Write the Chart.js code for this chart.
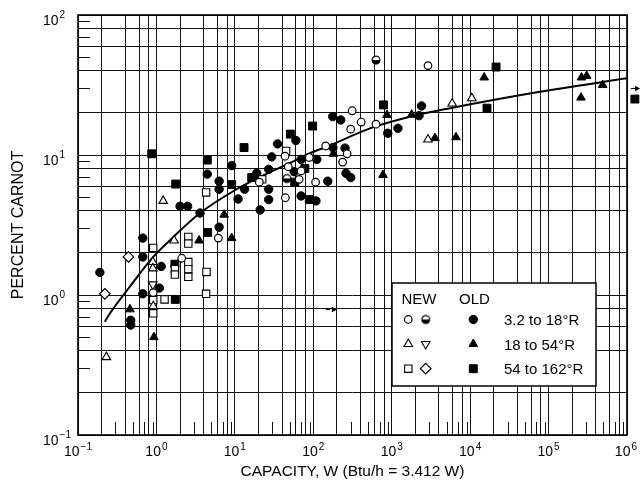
<!DOCTYPE html>
<html>
<head>
<meta charset="utf-8">
<script src="https://cdn.jsdelivr.net/npm/chart.js@4.4.1/dist/chart.umd.min.js"></script>
<style>
  html, body { margin: 0; padding: 0; background: #fff; }
  canvas { display: block; }
</style>
</head>
<body>
<canvas id="chart" width="640" height="482"></canvas>
<script>
// ---------- DATA ----------
const xTickExps = [-1, 0, 1, 2, 3, 4, 5, 6];
const yTickExps = [-1, 0, 1, 2];
const gridSteps = [1, 2, 4, 6, 8];
const minorSteps = [3, 5, 7, 9];

// OLD, filled symbols
const oldCircles = [
  [0.19, 1.45], [0.47, 0.66], [0.47, 0.61], [0.67, 2.55], [0.67, 1.87], [0.67, 1.02],
  [1.15, 1.6], [1.09, 1.12], [2.0, 4.3], [2.5, 4.3], [3.6, 3.85], [4.45, 7.3],
  [6.3, 6.5], [6.3, 5.7], [6.3, 3.05], [9.1, 8.4], [11, 4.85], [13.3, 5.7],
  [19, 7.4], [21, 4.05], [27, 7.9], [27, 5.7], [27, 4.8], [29.5, 9.7], [35, 12],
  [60, 12.7], [70, 9.3], [57, 7.6], [70, 5.1], [108, 4.7], [111, 9.3], [153, 6.5],
  [177, 18.8], [224, 17.8], [178, 11.3], [254, 11.2], [261, 7.4], [300, 6.9],
  [890, 14.3], [1200, 15.5], [2230, 19.1], [2400, 22.4]
];
const oldTriangles = [
  [0.46, 0.79], [0.93, 0.5], [3.5, 2.45], [7.3, 3.75], [9.1, 2.55], [180, 10.2],
  [775, 7.2], [870, 19.3], [1800, 19.4], [3560, 13.2], [6600, 13.4], [15100, 35.8],
  [263000, 35.8], [306000, 36.7], [490000, 31.6], [259000, 25.7]
];
const oldSquares = [
  [0.87, 10.2], [1.76, 6.2], [1.74, 0.93], [1.72, 1.66], [4.45, 9.2], [4.5, 2.8],
  [9.1, 6.15], [13.1, 11.3], [16.4, 6.9], [51, 14.1], [78, 8.0], [58, 6.4],
  [89, 4.8], [98, 16.1], [785, 22.8], [21400, 42.5], [16400, 21.6], [1.26e6, 25.1]
];

// NEW, open symbols
const newCircles = [
  [0.91, 1.04], [2.1, 1.83], [6.15, 2.55], [20.5, 6.4], [44, 4.95], [43.6, 9.8],
  [48, 8.25], [66, 6.7], [70, 7.7], [89, 9.6], [107, 6.4], [144, 11.6], [270, 10.2],
  [237, 8.9], [313, 20.7], [300, 15.3], [408, 17.2], [630, 16.6], [2900, 43.5]
];
const newHalfCircles = [[630, 47.7], [46, 6.8]];
const newTrianglesUp = [
  [0.23, 0.36], [0.9, 1.72], [0.9, 1.55], [0.91, 0.83], [1.22, 4.7], [1.68, 2.45],
  [2900, 12.9], [5900, 23.3], [10500, 25.4]
];
const newTrianglesDown = [[0.9, 1.19]];
const newSquares = [
  [0.91, 2.17], [0.91, 0.92], [0.91, 0.74], [1.27, 0.93], [1.72, 1.53], [1.72, 1.4],
  [2.55, 2.6], [2.55, 2.33], [2.55, 1.72], [2.55, 1.53], [2.55, 1.35], [4.35, 1.46],
  [4.3, 1.02], [4.3, 5.4], [22.3, 6.7], [45, 10.7]
];
const newDiamonds = [[0.44, 1.87], [0.22, 1.02]];

// fitted curve
const fitCurve = [
  [0.22, 0.645], [0.256, 0.74], [0.46, 1.15], [0.91, 1.87], [1.72, 2.66], [3.6, 3.85],
  [10, 5.6], [20.9, 6.96], [50.5, 8.77], [90.8, 10.3], [163, 11.7], [528, 15.5],
  [2100, 19.3], [5530, 21.6], [77600, 28.3], [1e6, 35.3]
];

// small arrows marking off-scale points
const arrowFromX = [145, 1.12e6];
const arrowToX = [200, 1.47e6];
const arrowY = [0.79, 30.1];
const arrowDashed = [true, false];

const legendHead = ["NEW", "OLD"];
const legendRows = ["3.2 to 18°R", "18 to 54°R", "54 to 162°R"];

// ---------- STYLE ----------
const FONT = '"Liberation Sans", Arial, Helvetica, sans-serif';
const GRID = "#111";

function halfCircle(r) {
  const c = document.createElement("canvas");
  c.width = 12; c.height = 12;
  const g = c.getContext("2d");
  g.beginPath(); g.arc(6, 6, r, 0, Math.PI * 2); g.fillStyle = "#fff"; g.fill();
  g.beginPath(); g.arc(6, 6, r, 0, Math.PI); g.closePath(); g.fillStyle = "#000"; g.fill();
  g.beginPath(); g.arc(6, 6, r, 0, Math.PI * 2); g.lineWidth = 1.2; g.strokeStyle = "#000"; g.stroke();
  return c;
}

const MK = {
  newCircle: { pointStyle: "circle", radius: 3.8, rotation: 0, fill: "#fff", bw: 1.2 },
  newHalf:   { pointStyle: halfCircle(3.9), radius: 4, rotation: 0, fill: "#fff", bw: 1.2 },
  newTriUp:  { pointStyle: "triangle", radius: 5, rotation: 0, fill: "#fff", bw: 1.1 },
  newTriDn:  { pointStyle: "triangle", radius: 5, rotation: 180, fill: "#fff", bw: 1.1 },
  newSquare: { pointStyle: "rect", radius: 5.2, rotation: 0, fill: "#fff", bw: 1.1 },
  newDiam:   { pointStyle: "rectRot", radius: 5.3, rotation: 0, fill: "#fff", bw: 1.2 },
  oldCircle: { pointStyle: "circle", radius: 4.2, rotation: 0, fill: "#000", bw: 1 },
  oldTri:    { pointStyle: "triangle", radius: 5, rotation: 0, fill: "#000", bw: 1 },
  oldSquare: { pointStyle: "rect", radius: 5.6, rotation: 0, fill: "#000", bw: 1 }
};

function pts(arr) {
  return arr.map(p => ({ x: p[0], y: p[1] }));
}

function markerSet(label, arr, mk) {
  return {
    label,
    data: pts(arr),
    pointStyle: mk.pointStyle,
    pointRadius: mk.radius,
    pointRotation: mk.rotation,
    pointBackgroundColor: mk.fill,
    pointBorderColor: "#000",
    pointBorderWidth: mk.bw,
    showLine: false,
    clip: false
  };
}

function logTicks(lo, hi) {
  const out = [];
  for (let e = lo; e < hi; e++) {
    for (let m = 1; m <= 9; m++) {
      out.push({ value: Number((m * Math.pow(10, e)).toPrecision(6)), isGrid: gridSteps.includes(m) });
    }
  }
  out.push({ value: Math.pow(10, hi), isGrid: true });
  return out;
}

function drawMarker(ctx, mk, x, y) {
  ctx.save();
  ctx.fillStyle = mk.fill;
  ctx.strokeStyle = "#000";
  ctx.lineWidth = mk.bw;
  Chart.helpers.drawPoint(ctx, { pointStyle: mk.pointStyle, radius: mk.radius, rotation: mk.rotation, borderWidth: mk.bw }, x, y);
  ctx.restore();
}

function expText(e) {
  return e < 0 ? "\u2212" + (-e) : String(e);
}

// ---------- EXTRAS: minor ticks, frame, tick labels, legend, arrows ----------
const extras = {
  id: "extras",
  beforeDatasetsDraw(chart) {
    const { ctx, chartArea: a, scales: { x, y } } = chart;
    ctx.save();
    ctx.strokeStyle = GRID;
    ctx.lineWidth = 1;
    ctx.beginPath();
    for (let e = -1; e < 6; e++) {
      for (const m of minorSteps) {
        const px = Math.round(x.getPixelForValue(m * Math.pow(10, e))) + 0.5;
        ctx.moveTo(px, a.bottom);
        ctx.lineTo(px, a.bottom - 13);
      }
    }
    for (let e = -1; e < 2; e++) {
      for (const m of minorSteps) {
        const py = Math.round(y.getPixelForValue(m * Math.pow(10, e))) + 0.5;
        ctx.moveTo(a.left, py);
        ctx.lineTo(a.left + 12, py);
      }
    }
    ctx.stroke();
    ctx.lineWidth = 1.6;
    ctx.strokeStyle = "#000";
    ctx.strokeRect(a.left, a.top, a.right - a.left, a.bottom - a.top);
    ctx.restore();
  },
  afterDatasetsDraw(chart) {
    const { ctx, chartArea: a, scales: { x, y } } = chart;
    ctx.save();

    // off-scale square beyond 10^6 (Chart.js skips points outside the area)
    oldSquares.forEach(p => {
      if (p[0] > x.max) drawMarker(ctx, MK.oldSquare, x.getPixelForValue(p[0]), y.getPixelForValue(p[1]));
    });

    ctx.fillStyle = "#000";
    ctx.textBaseline = "alphabetic";
    ctx.textAlign = "left";

    // x tick labels
    xTickExps.forEach(e => {
      ctx.font = "14px " + FONT;
      const bw = ctx.measureText("10").width;
      ctx.font = "10px " + FONT;
      const ew = ctx.measureText(expText(e)).width;
      const total = bw + 1 + ew;
      let left = x.getPixelForValue(Math.pow(10, e)) - total / 2;
      if (left + total > 637) left = 637 - total;
      ctx.font = "14px " + FONT;
      ctx.fillText("10", left, 456);
      ctx.font = "10px " + FONT;
      ctx.fillText(expText(e), left + bw + 1, 449.5);
    });

    // y tick labels
    yTickExps.forEach(e => {
      const gy = y.getPixelForValue(Math.pow(10, e));
      ctx.font = "14px " + FONT;
      const bw = ctx.measureText("10").width;
      ctx.fillText("10", 43, gy + 9.5);
      ctx.font = "10px " + FONT;
      ctx.fillText(expText(e), 43 + bw + 1, gy + 3);
    });

    // arrows
    arrowY.forEach((v, i) => {
      const x1 = x.getPixelForValue(arrowFromX[i]);
      const x2 = x.getPixelForValue(arrowToX[i]);
      const py = Math.round(y.getPixelForValue(v)) + 0.5;
      ctx.strokeStyle = "#000";
      ctx.lineWidth = 1.2;
      ctx.setLineDash(arrowDashed[i] ? [4, 3] : []);
      ctx.beginPath();
      ctx.moveTo(x1, py);
      ctx.lineTo(x2 - 3, py);
      ctx.stroke();
      ctx.setLineDash([]);
      ctx.beginPath();
      ctx.moveTo(x2, py);
      ctx.lineTo(x2 - 5, py - 2.8);
      ctx.lineTo(x2 - 5, py + 2.8);
      ctx.closePath();
      ctx.fill();
    });

    // legend box
    const bx = 392, by = 283, bwid = 204, bh = 103;
    ctx.fillStyle = "#fff";
    ctx.fillRect(bx, by, bwid, bh);
    ctx.strokeStyle = "#000";
    ctx.lineWidth = 1.5;
    ctx.strokeRect(bx, by, bwid, bh);
    ctx.fillStyle = "#000";
    ctx.font = "15px " + FONT;
    ctx.fillText(legendHead[0], 401.5, 303.5);
    ctx.fillText(legendHead[1], 459, 303.5);
    const rowsY = [319.5, 344, 368.7];
    const cols = [408.3, 425.7, 473.3];
    const rowMarks = [
      [MK.newCircle, MK.newHalf, MK.oldCircle],
      [MK.newTriUp, MK.newTriDn, MK.oldTri],
      [MK.newSquare, MK.newDiam, MK.oldSquare]
    ];
    legendRows.forEach((t, r) => {
      rowMarks[r].forEach((mk, c) => drawMarker(ctx, mk, cols[c], rowsY[r]));
      ctx.fillStyle = "#000";
      ctx.font = "15px " + FONT;
      ctx.fillText(t, 504, rowsY[r] + 5.5);
    });
    ctx.restore();
  }
};

// ---------- CHART ----------
new Chart(document.getElementById("chart"), {
  type: "scatter",
  data: {
    datasets: [
      markerSet("NEW 3.2-18", newCircles, MK.newCircle),
      markerSet("NEW 3.2-18 b", newHalfCircles, MK.newHalf),
      markerSet("NEW 18-54", newTrianglesUp, MK.newTriUp),
      markerSet("NEW 18-54 b", newTrianglesDown, MK.newTriDn),
      markerSet("NEW 54-162", newSquares, MK.newSquare),
      markerSet("NEW 54-162 b", newDiamonds, MK.newDiam),
      markerSet("OLD 3.2-18", oldCircles, MK.oldCircle),
      markerSet("OLD 18-54", oldTriangles, MK.oldTri),
      markerSet("OLD 54-162", oldSquares, MK.oldSquare),
      {
        label: "fit",
        data: pts(fitCurve),
        showLine: true,
        pointRadius: 0,
        borderColor: "#000",
        borderWidth: 2,
        cubicInterpolationMode: "monotone",
        fill: false
      }
    ]
  },
  options: {
    responsive: false,
    devicePixelRatio: 1,
    animation: false,
    events: [],
    layout: { autoPadding: false, padding: { left: 0, right: 13, top: 15, bottom: 0 } },
    plugins: {
      legend: { display: false },
      tooltip: { enabled: false }
    },
    scales: {
      x: {
        type: "logarithmic",
        min: 0.1,
        max: 1e6,
        afterBuildTicks: s => { s.ticks = logTicks(-1, 6); },
        afterFit: s => { s.height = 47; },
        ticks: { display: false },
        grid: {
          color: c => (c.tick && c.tick.isGrid ? GRID : "rgba(0,0,0,0)"),
          lineWidth: 1,
          drawTicks: false
        },
        border: { display: false },
        title: {
          display: true,
          text: "CAPACITY, W (Btu/h = 3.412 W)",
          color: "#000",
          font: { family: FONT, size: 15.5 },
          padding: { top: 0, bottom: 1 }
        }
      },
      y: {
        type: "logarithmic",
        min: 0.1,
        max: 100,
        afterBuildTicks: s => { s.ticks = logTicks(-1, 2); },
        afterFit: s => { s.width = 78; },
        ticks: { display: false },
        grid: {
          color: c => (c.tick && c.tick.isGrid ? GRID : "rgba(0,0,0,0)"),
          lineWidth: 1,
          drawTicks: false
        },
        border: { display: false },
        title: {
          display: true,
          text: "PERCENT CARNOT",
          color: "#000",
          font: { family: FONT, size: 16 },
          padding: { top: 9, bottom: 0 }
        }
      }
    }
  },
  plugins: [extras]
});
</script>
</body>
</html>
